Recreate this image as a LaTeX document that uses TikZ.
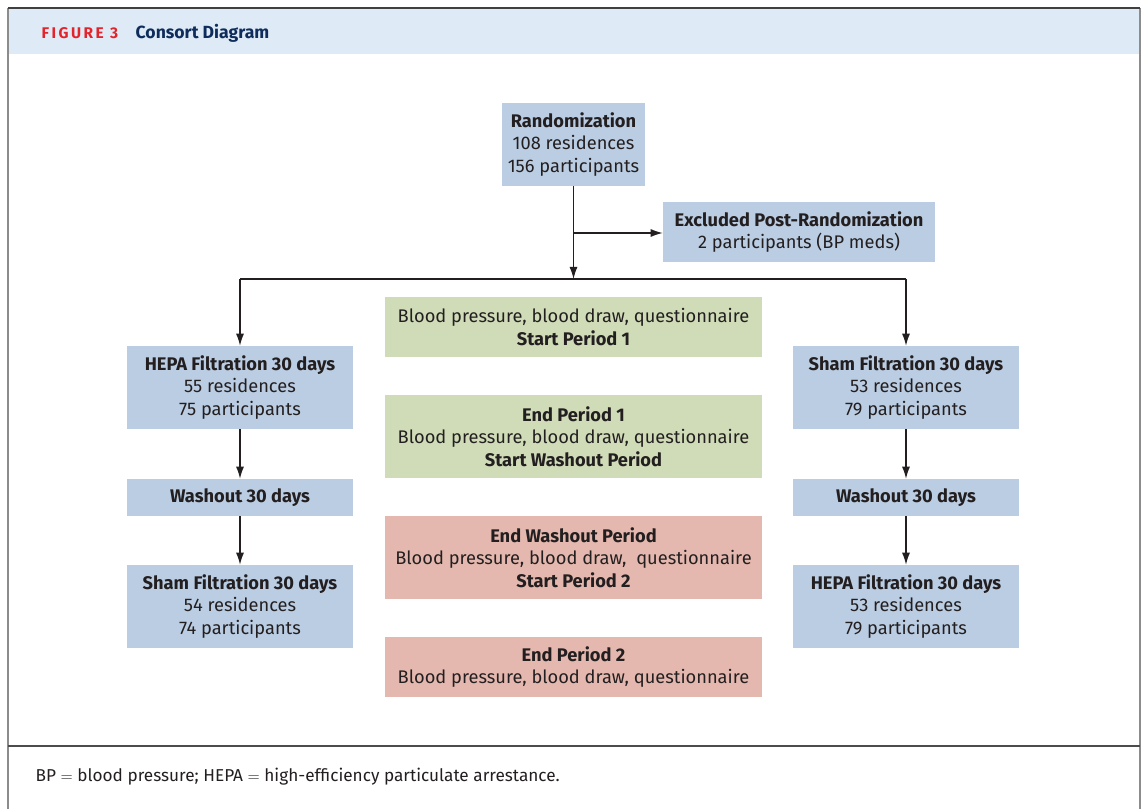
\documentclass[tikz,border=0pt]{standalone}
\usepackage{fontspec}
\setmainfont{Fira Sans}
\usetikzlibrary{arrows.meta,positioning}
\definecolor{armblue}{RGB}{187,205,227}
\definecolor{visitgreen}{RGB}{207,220,183}
\definecolor{visitred}{RGB}{228,184,174}
\definecolor{headband}{RGB}{222,234,246}
\definecolor{figred}{RGB}{227,36,43}
\definecolor{navy}{RGB}{15,45,92}
\definecolor{ink}{RGB}{35,31,32}
\tikzset{
  flow/.style={-{Latex[length=9pt,width=6pt]}, line width=0.9pt, ink},
  link/.style={line width=0.9pt, ink},
  frame/.style={line width=1.2pt, black!45},
  box/.style={inner sep=0pt, align=center, text=ink,
    font=\fontsize{13.7}{16.9}\selectfont},
  armbox/.style={box, fill=armblue, minimum width=169.5pt, minimum height=62.25pt},
  washbox/.style={box, fill=armblue, minimum width=169.5pt, minimum height=27.75pt},
  visitbox/.style={box, minimum width=282.75pt}
}
\begin{document}
\begin{tikzpicture}[x=0.75pt,y=-0.75pt]
  \useasboundingbox (0,0) rectangle (1142,809);

  % frame and header
  \fill[headband] (8,9) rectangle (1140,54);
  \draw[frame] (8,8) -- (8,809);
  \draw[frame] (1140,8) -- (1140,809);
  \draw[line width=1.4pt, black!75] (8,8) -- (1140,8);
  \draw[line width=1.1pt, black!70] (8,746) -- (1140,746);
  \node[anchor=west, text=figred, font=\bfseries\fontsize{11.6}{14}\selectfont]
    (fignum) at (37,33) {\addfontfeatures{LetterSpace=16}FIGURE 3};
  \node[anchor=west, text=navy, font=\bfseries\fontsize{13.2}{16}\selectfont]
    (figtitle) at (131,33) {Consort Diagram};

  % enrolment
  \node[box, fill=armblue, minimum width=107.25pt, minimum height=62.25pt]
    (rand) at (573.5,144.5)
    {\textbf{Randomization}\\108 residences\\156 participants};
  \node[box, fill=armblue, minimum width=204pt, minimum height=45pt]
    (excl) at (799,232)
    {\textbf{Excluded Post-Randomization}\\2 participants (BP meds)};

  % study arms
  \node[armbox] (hepaA) at (240,387.5)
    {\textbf{HEPA Filtration 30 days}\\55 residences\\75 participants};
  \node[washbox] (washA) at (240,497.5) {\textbf{Washout 30 days}};
  \node[armbox] (shamA) at (240,606.5)
    {\textbf{Sham Filtration 30 days}\\54 residences\\74 participants};

  \node[armbox] (shamB) at (906,387.5)
    {\textbf{Sham Filtration 30 days}\\53 residences\\79 participants};
  \node[washbox] (washB) at (906,497.5) {\textbf{Washout 30 days}};
  \node[armbox] (hepaB) at (906,606.5)
    {\textbf{HEPA Filtration 30 days}\\53 residences\\79 participants};

  % visits
  \node[visitbox, fill=visitgreen, minimum height=45pt] (visitA) at (573.5,327)
    {Blood pressure, blood draw, questionnaire\\\textbf{Start Period 1}};
  \node[visitbox, fill=visitgreen, minimum height=62.25pt] (visitB) at (573.5,436.5)
    {\textbf{End Period 1}\\Blood pressure, blood draw, questionnaire\\\textbf{Start Washout Period}};
  \node[visitbox, fill=visitred, minimum height=62.25pt] (visitC) at (573.5,557.5)
    {\textbf{End Washout Period}\\Blood pressure, blood draw,\ \ questionnaire\\\textbf{Start Period 2}};
  \node[visitbox, fill=visitred, minimum height=45pt] (visitD) at (573.5,667)
    {\textbf{End Period 2}\\Blood pressure, blood draw, questionnaire};

  % connectors
  \coordinate (split) at (573.5,279);
  \coordinate (tee) at (573.5,233);
  \draw[flow] (rand.south) -- (split);
  \draw[flow] (tee) -- (excl.west |- tee);
  \draw[link] (hepaA.north |- split) -- (shamB.north |- split);
  \draw[flow] (hepaA.north |- split) -- (hepaA.north);
  \draw[flow] (shamB.north |- split) -- (shamB.north);
  \draw[flow] (hepaA) -- (washA);
  \draw[flow] (washA) -- (shamA);
  \draw[flow] (shamB) -- (washB);
  \draw[flow] (washB) -- (hepaB);

  % footnote
  \node[anchor=west, text=ink, font=\fontsize{12.9}{15}\selectfont] (foot) at (31,777)
    {BP $=$ blood pressure; HEPA $=$ high-efficiency particulate arrestance.};
\end{tikzpicture}
\end{document}
